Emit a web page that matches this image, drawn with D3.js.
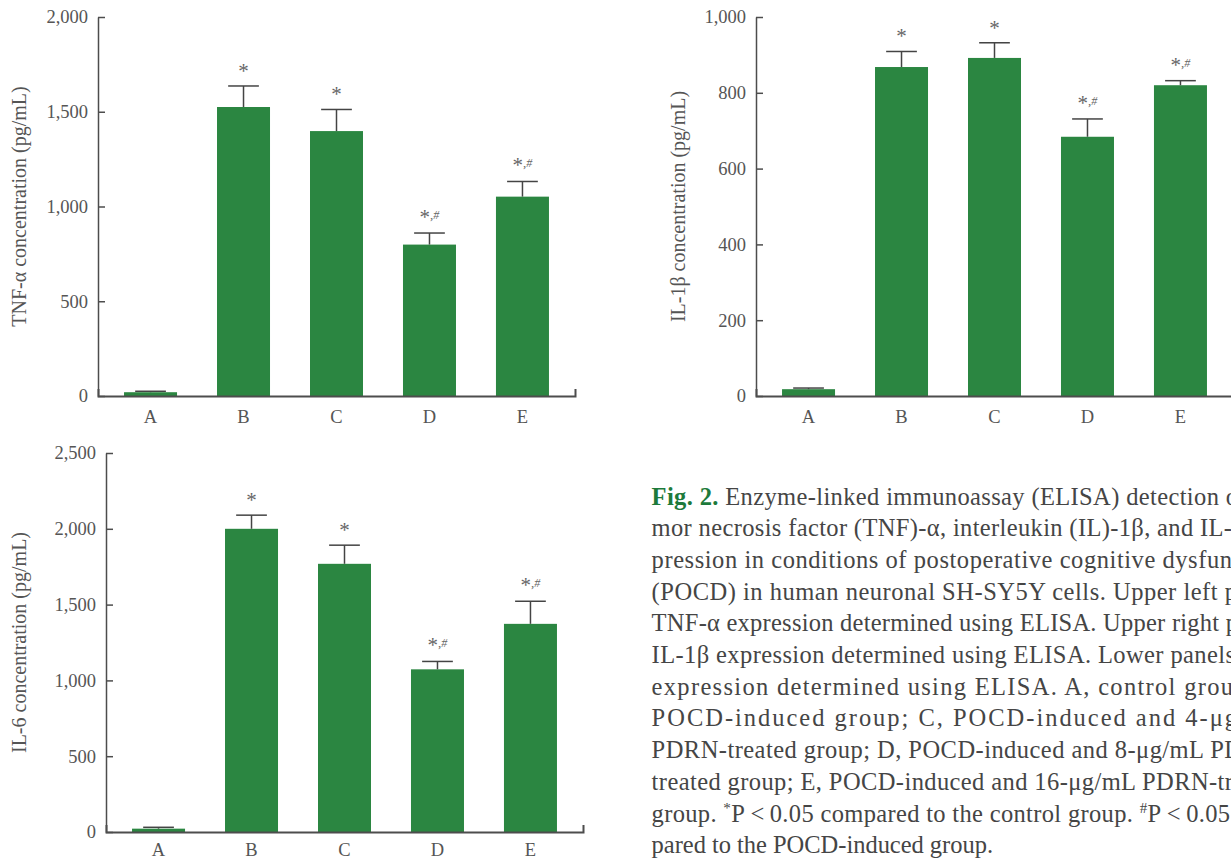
<!DOCTYPE html>
<html><head><meta charset="utf-8">
<script src="https://cdn.jsdelivr.net/npm/d3@7"></script>
<style>
html,body{margin:0;padding:0;background:#fff;overflow:hidden;}
svg{display:block;}
</style></head><body>
<svg id="fig" width="1231" height="862"></svg>
<script>
// ---------------- DATA ----------------
const categories = ["A", "B", "C", "D", "E"];

const tnfMeans  = [20, 1525, 1398, 799, 1052];
const tnfErrors = [5, 111, 114, 61, 80];
const tnfSig    = ["", "*", "*", "*,#", "*,#"];
const tnfTicks  = [0, 500, 1000, 1500, 2000];

const il1bMeans  = [18, 868, 892, 684, 820];
const il1bErrors = [3, 41, 40, 47, 12];
const il1bSig    = ["", "*", "*", "*,#", "*,#"];
const il1bTicks  = [0, 200, 400, 600, 800, 1000];

const il6Means  = [22, 2000, 1769, 1073, 1373];
const il6Errors = [9, 90, 123, 52, 149];
const il6Sig    = ["", "*", "*", "*,#", "*,#"];
const il6Ticks  = [0, 500, 1000, 1500, 2000, 2500];

const captionLines = [
  [{t: "Fig. 2.", bold: true}, {t: " Enzyme-linked immunoassay (ELISA) detection o"}],
  [{t: "mor necrosis factor (TNF)-α, interleukin (IL)-1β, and IL-"}],
  [{t: "pression in conditions of postoperative cognitive dysfun"}],
  [{t: "(POCD) in human neuronal SH-SY5Y cells. Upper left p"}],
  [{t: "TNF-α expression determined using ELISA. Upper right p"}],
  [{t: "IL-1β expression determined using ELISA. Lower panels"}],
  [{t: "expression determined using ELISA. A, control grou"}],
  [{t: "POCD-induced group; C, POCD-induced and 4-μg"}],
  [{t: "PDRN-treated group; D, POCD-induced and 8-μg/mL PD"}],
  [{t: "treated group; E, POCD-induced and 16-μg/mL PDRN-tr"}],
  [{t: "group. "}, {t: "*", sup: true}, {t: "P\u2009<\u20090.05 compared to the control group. "}, {t: "#", sup: true}, {t: "P\u2009<\u20090.05"}],
  [{t: "pared to the POCD-induced group."}]
];

// ---------------- LAYOUT / STYLE ----------------
const FONT = "'Liberation Serif', 'Times New Roman', serif";
const BAR = "#2b8641";
const AXIS = "#4d4d4d";
const TEXT = "#555";
const captionX = 651.6, captionY0 = 504.5, captionStep = 31.7;
const captionEnds = [1238, 1232, 1232, 1237, 1238, 1235, 1233, 1237, 1242, 1233, 1230, 993];

const svg = d3.select("#fig");

function panel(cfg) {
  const {left, width, top, bottom, means, errors, sig, ticks, title, titleX, labelPad} = cfg;
  const x = d3.scaleBand().domain(categories).range([left, left + width])
    .paddingInner(0.43).paddingOuter(0.28);
  const y = d3.scaleLinear().domain([0, d3.max(ticks)]).range([bottom, top]);
  const g = svg.append("g");

  // bars
  g.selectAll("rect.bar").data(categories).join("rect")
    .attr("class", "bar")
    .attr("x", d => x(d)).attr("width", x.bandwidth())
    .attr("y", (d, i) => y(means[i]))
    .attr("height", (d, i) => y(0) - y(means[i]))
    .attr("fill", BAR);

  // error bars
  const cap = x.bandwidth() * 0.29;
  const eb = g.selectAll("g.err").data(categories).join("g").attr("class", "err")
    .attr("stroke", "#444").attr("stroke-width", 1.5);
  eb.append("line")
    .attr("x1", d => x(d) + x.bandwidth() / 2).attr("x2", d => x(d) + x.bandwidth() / 2)
    .attr("y1", (d, i) => y(means[i])).attr("y2", (d, i) => y(means[i] + errors[i]));
  eb.append("line")
    .attr("x1", d => x(d) + x.bandwidth() / 2 - cap).attr("x2", d => x(d) + x.bandwidth() / 2 + cap)
    .attr("y1", (d, i) => y(means[i] + errors[i])).attr("y2", (d, i) => y(means[i] + errors[i]));

  // significance marks: "*" large, ",#" smaller and raised
  const st = g.selectAll("text.sig").data(categories).join("text")
    .attr("class", "sig")
    .attr("x", d => x(d) + x.bandwidth() / 2)
    .attr("y", (d, i) => y(means[i] + errors[i]) - (sig[i].length > 1 ? 9 : 8))
    .attr("text-anchor", "middle")
    .attr("font-family", FONT).attr("fill", "#666");
  st.each(function (d, i) {
    const s = sig[i];
    if (!s) return;
    const el = d3.select(this);
    el.append("tspan").attr("font-size", 21).text(s[0]);
    if (s.length > 1) {
      el.append("tspan").attr("font-size", 13).attr("dy", -5).text(s.slice(1, -1));
      el.append("tspan").attr("font-size", 12).attr("font-style", "italic").text(s.slice(-1));
    }
  });

  // y axis
  const ya = g.append("g").attr("transform", `translate(${left},0)`)
    .call(d3.axisLeft(y).tickValues(ticks).tickFormat(d3.format(","))
      .tickSizeInner(-7).tickSizeOuter(0).tickPadding(10));
  ya.attr("font-family", FONT).attr("font-size", 18.5);
  ya.select(".domain").attr("stroke", AXIS).attr("stroke-width", 1.5);
  ya.selectAll(".tick line").attr("stroke", AXIS).attr("stroke-width", 1.5);
  ya.selectAll(".tick text").attr("fill", TEXT);

  // x axis
  const xa = g.append("g").attr("transform", `translate(0,${bottom})`)
    .call(d3.axisBottom(x).tickSizeInner(0).tickSizeOuter(-7).tickPadding(labelPad));
  xa.attr("font-family", FONT).attr("font-size", 18.5);
  xa.select(".domain").attr("stroke", AXIS).attr("stroke-width", 2);
  xa.selectAll(".tick text").attr("fill", TEXT);

  // y title
  g.append("text")
    .attr("transform", `translate(${titleX},${(top + bottom) / 2}) rotate(-90)`)
    .attr("text-anchor", "middle")
    .attr("font-family", FONT).attr("font-size", 20).attr("fill", TEXT)
    .text(title);
}

panel({left: 98, width: 477, top: 17, bottom: 396, means: tnfMeans, errors: tnfErrors,
  sig: tnfSig, ticks: tnfTicks, title: "TNF-α concentration (pg/mL)", titleX: 26, labelPad: 14});
panel({left: 756, width: 477, top: 17, bottom: 396, means: il1bMeans, errors: il1bErrors,
  sig: il1bSig, ticks: il1bTicks, title: "IL-1β concentration (pg/mL)", titleX: 685, labelPad: 14});
panel({left: 106, width: 477, top: 453, bottom: 832, means: il6Means, errors: il6Errors,
  sig: il6Sig, ticks: il6Ticks, title: "IL-6 concentration (pg/mL)", titleX: 26, labelPad: 11});

// caption
const capG = svg.append("g").attr("font-family", FONT).attr("font-size", 24.5).attr("fill", "#454545");
captionLines.forEach((segs, i) => {
  const t = capG.append("text")
    .attr("x", captionX).attr("y", captionY0 + i * captionStep)
    .attr("textLength", captionEnds[i] - captionX)
    .attr("lengthAdjust", "spacing");
  let raised = false;
  segs.forEach(s => {
    const ts = t.append("tspan").text(s.t);
    if (s.bold) ts.attr("font-weight", "bold").attr("fill", "#1d7a3b");
    if (s.sup) { ts.attr("font-size", 15).attr("dy", -9); raised = true; }
    else if (raised) { ts.attr("dy", 9); raised = false; }
  });
});
</script>
</body></html>
